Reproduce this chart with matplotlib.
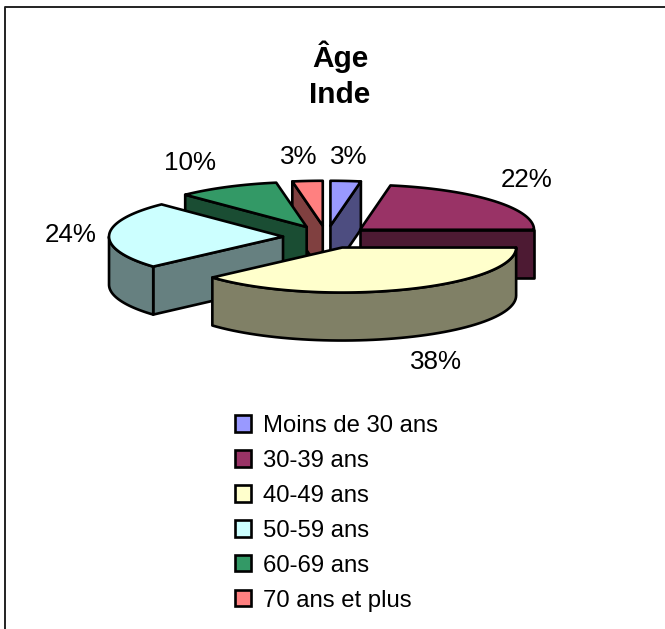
import numpy as np
import matplotlib
matplotlib.use('Agg')
import matplotlib.pyplot as plt
from matplotlib.patches import Polygon, Patch

plt.rcParams['font.family'] = ['Liberation Sans', 'DejaVu Sans']

categories = ['Moins de 30 ans', '30-39 ans', '40-49 ans', '50-59 ans', '60-69 ans', '70 ans et plus']
# shares, the printed labels are rounded
valeurs = [2.8, 22.2, 38.4, 24.3, 9.5, 2.8]
etiquettes = ['3%', '22%', '38%', '24%', '10%', '3%']
couleurs = ['#9999FF', '#993366', '#FFFFCC', '#CCFFFF', '#339966', '#FF8080']

# pie geometry in pixels
cx, cy = 326.6, 237
rx, ry = 174, 45
explode = 43.6
depth = 48
lw = 1.9

# where each label goes
label_pos = [(349, 157), (527, 180), (436, 362), (71, 235), (190, 163), (299, 157)]
# back slices first, front ones on top
ordre = [5, 0, 4, 1, 3, 2]

fig = plt.figure(figsize=(6.65, 6.29), dpi=100)
ax = fig.add_axes([0, 0, 1, 1])
ax.set_xlim(0, 665)
ax.set_ylim(629, 0)
ax.axis('off')


def point(ax0, ay0, a):
    return ax0 + rx * np.sin(a), ay0 - ry * np.cos(a)


def wall(pts, col):
    pts = np.array(pts)
    bas = pts[::-1] + [0, depth]
    ax.add_patch(Polygon(np.vstack([pts, bas]), closed=True, fc=col, ec='black', lw=lw, joinstyle='round'))


bornes = np.radians(np.cumsum([0] + valeurs) / np.sum(valeurs) * 360)

for i in ordre:
    a0, a1 = bornes[i], bornes[i + 1]
    mid = (a0 + a1) / 2
    x0 = cx + explode * np.sin(mid)
    y0 = cy - explode * ry / rx * np.cos(mid)
    sombre = tuple(c / 2 for c in matplotlib.colors.to_rgb(couleurs[i]))

    # cut faces, only when they look towards us
    if np.sin(a0) < 0:
        wall([(x0, y0), point(x0, y0, a0)], sombre)
    if np.sin(a1) > 1e-6 or abs(a1 - np.pi / 2) < 0.05:
        wall([(x0, y0), point(x0, y0, a1)], sombre)

    # rim, front half of the ellipse only
    d, f = max(a0, np.pi / 2), min(a1, 3 * np.pi / 2)
    if f > d:
        t = np.linspace(d, f, 60)
        wall(np.column_stack(point(x0, y0, t)), sombre)

    t = np.linspace(a0, a1, 80)
    arc = np.column_stack(point(x0, y0, t))
    ax.add_patch(Polygon(np.vstack([[(x0, y0)], arc]), closed=True, fc=couleurs[i], ec='black', lw=lw, joinstyle='round'))

for (lx, ly), txt in zip(label_pos, etiquettes):
    ax.text(lx, ly, txt, fontsize=18.7, ha='center', va='center', color='black')

ax.text(340, 75, 'Âge\nInde', fontsize=21.5, fontweight='bold', ha='center', va='center', linespacing=1.36)

handles = [Patch(fc=c, ec='black', lw=lw) for c in couleurs]
ax.legend(handles, categories, loc='upper left', bbox_to_anchor=(235, 415), bbox_transform=ax.transData,
          frameon=False, fontsize=17.2, handlelength=0.68, handleheight=0.68, handletextpad=0.5,
          labelspacing=0.54, borderpad=0, borderaxespad=0)

# chart frame
ax.plot([5, 5, 665], [629, 6.5, 6.5], color='#222222', lw=1.4, clip_on=False)

fig.savefig('out.png', dpi=100)
